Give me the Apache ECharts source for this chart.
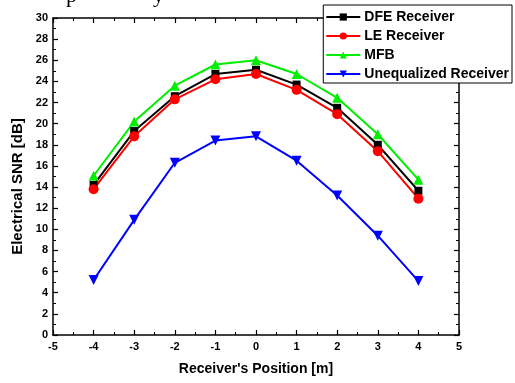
<!DOCTYPE html>
<html><head><meta charset="utf-8">
<script src="https://cdn.jsdelivr.net/npm/echarts@6/dist/echarts.min.js"></script>
<style>html,body{margin:0;padding:0;background:#fff}#c{width:515px;height:383px}</style>
</head><body><div id="c"></div>
<script>
var positions = [-4, -3, -2, -1, 0, 1, 2, 3, 4];
var dfe = [14.2, 19.3, 22.6, 24.7, 25.1, 23.7, 21.5, 18.0, 13.65];
var le = [13.8, 18.8, 22.3, 24.2, 24.7, 23.2, 20.9, 17.4, 12.9];
var mfb = [15.07, 20.2, 23.6, 25.6, 26.0, 24.7, 22.45, 19.0, 14.7];
var uneq = [5.2, 10.9, 16.3, 18.4, 18.8, 16.5, 13.2, 9.4, 5.1];
var seriesNames = ['DFE Receiver', 'LE Receiver', 'MFB', 'Unequalized Receiver'];

function pairs(v){ return positions.map(function(x,i){return [x, v[i]];}); }
var font = 'Liberation Sans, Arial, sans-serif';
var axisLine = {show:true, onZero:false, lineStyle:{color:'#000', width:1.5}};
var tickIn = {show:true, inside:true, length:5, lineStyle:{color:'#000', width:1.2}};
var minorIn = {show:true, splitNumber:2, length:3, lineStyle:{color:'#000', width:1}};
var chart = echarts.init(document.getElementById('c'));
function mk(name, data, color, symbol, rot){
  return {name:name, type:'line', data:pairs(data), symbol:symbol, symbolSize:symbol==='rect'?8:10,
    symbolRotate:rot||0, lineStyle:{color:color,width:2}, itemStyle:{color:color}, color:color, z:3};
}
chart.setOption({
  animation:false,
  graphic:[
    {type:'text', left:66, top:-15, style:{text:'p', font:'22px "Liberation Serif", serif', fill:'#000'}},
    {type:'text', left:153, top:-15, style:{text:'y', font:'22px "Liberation Serif", serif', fill:'#000'}}
  ],
  grid:{left:53, right:56, top:18, bottom:48},
  legend:{
    data:seriesNames, orient:'vertical', right:3, top:5, itemWidth:34, itemHeight:9, itemGap:5,
    padding:[5,3,2,2], backgroundColor:'#fff', borderColor:'#000', borderWidth:1,
    textStyle:{fontFamily:font, fontWeight:'bold', fontSize:14, color:'#000', padding:[0,0,0,-1], lineHeight:14}, z:10
  },
  xAxis:[
    {type:'value', min:-5, max:5, interval:1, axisLine:axisLine, axisTick:tickIn,
     minorTick:minorIn, splitLine:{show:false},
     axisLabel:{fontFamily:font, fontWeight:'bold', fontSize:11, color:'#000', margin:6},
     name:"Receiver's Position [m]", nameLocation:'middle', nameGap:27,
     nameTextStyle:{fontFamily:font, fontWeight:'bold', fontSize:14, color:'#000'}},
    {type:'value', position:'top', min:-5, max:5, interval:1, axisLine:axisLine, axisTick:tickIn,
     minorTick:minorIn, splitLine:{show:false}, axisLabel:{show:false}}
  ],
  yAxis:[
    {type:'value', min:0, max:30, interval:2, axisLine:axisLine, axisTick:tickIn,
     minorTick:minorIn, splitLine:{show:false},
     axisLabel:{fontFamily:font, fontWeight:'bold', fontSize:11, color:'#000', margin:5},
     name:'Electrical SNR [dB]', nameLocation:'middle', nameGap:28,
     nameTextStyle:{fontFamily:font, fontWeight:'bold', fontSize:15, color:'#000', padding:[0,20,0,0]}},
    {type:'value', position:'right', min:0, max:30, interval:2, axisLine:axisLine, axisTick:tickIn,
     minorTick:minorIn, splitLine:{show:false}, axisLabel:{show:false}}
  ],
  series:[
    mk(seriesNames[0], dfe, '#000000', 'rect'),
    mk(seriesNames[1], le, '#ff0000', 'circle'),
    mk(seriesNames[2], mfb, '#00ee00', 'triangle'),
    mk(seriesNames[3], uneq, '#0000ff', 'triangle', 180)
  ]
});
</script></body></html>
